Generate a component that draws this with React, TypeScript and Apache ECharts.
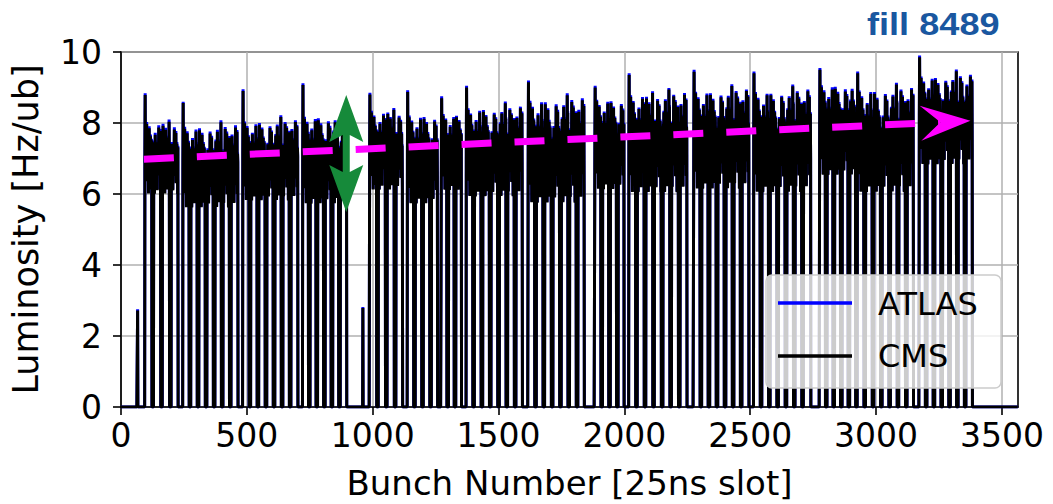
import React, { useEffect, useRef } from "react";
import * as echarts from "echarts";

// ---------- data ----------
const TOTAL_SLOTS = 3564;
const xTickValues = [0, 500, 1000, 1500, 2000, 2500, 3000, 3500];

// isolated (pilot/witness) bunches
const isolatedSlot = [66, 961];
const isolatedCMS = [2.72, 2.79];
const isolatedATLAS = [2.75, 2.82];

// injection groups (first and last filled slot), sub-train count per group
const groupStart = [95, 246, 484, 722, 988, 1138, 1273, 1372, 1618, 1883, 2018, 2276, 2514, 2776, 2926, 3172];
const groupEnd = [226, 464, 702, 896, 1118, 1257, 1352, 1594, 1840, 1998, 2248, 2494, 2740, 2918, 3148, 3382];
const groupTrains = [4, 7, 7, 6, 4, 4, 3, 7, 7, 4, 7, 7, 7, 5, 7, 7];
const trainGapSlots = 7;

// CMS luminosity envelope per group [Hz/ub]
const groupPeakCMS = [8.79, 8.56, 8.9, 9.07, 8.8, 8.87, 8.7, 9.0, 9.15, 9.0, 9.35, 9.44, 9.4, 9.5, 9.4, 9.85];
const groupTopCMS = [8.1, 8.0, 8.15, 8.3, 8.45, 8.35, 8.35, 8.55, 8.8, 8.8, 8.95, 9.05, 9.05, 9.2, 9.1, 9.45];
const groupLowCMS = [5.9, 5.5, 5.7, 5.6, 6.0, 5.6, 6.0, 5.8, 5.6, 6.0, 5.9, 6.0, 5.9, 6.4, 5.9, 6.7];
// ATLAS luminosity envelope per group [Hz/ub]
const groupPeakATLAS = [8.84, 8.6, 8.95, 9.12, 8.85, 8.92, 8.75, 9.05, 9.2, 9.05, 9.4, 9.5, 9.45, 9.55, 9.45, 9.9];
const groupTopATLAS = [8.16, 8.06, 8.2, 8.36, 8.5, 8.4, 8.4, 8.6, 8.86, 8.85, 9.0, 9.1, 9.1, 9.26, 9.15, 9.5];
const groupLowATLAS = [5.92, 5.52, 5.72, 5.62, 6.02, 5.62, 6.02, 5.82, 5.62, 6.02, 5.92, 6.02, 5.92, 6.42, 5.92, 6.72];

// typical bunch-by-bunch shape inside a train (fraction between low and top)
const trainProfile = [0.55, 0.95, 0.45, 0.8, 0.3, 0.7, 0.5, 0.9, 0.2, 0.65, 0.55, 0.75, 0.35, 0.6, 0.05, 0.7, 0.4, 0.85, 0.3, 0.55, 0.65, 0.25, 0.75, 0.45, 0.6, 0.1, 0.7, 0.5, 0.35, 0.6];
// where each train of a group enters the shape above, and its top variation [Hz/ub]
const trainProfileOffset = [0, 11, 5, 19, 8, 23, 14];
const trainTopShift = [0.1, -0.12, 0.05, -0.18, 0.15, -0.05, 0.0];

// annotations
const trendStart = [91, 6.98];
const trendEnd = [3375, 8.06];
const spreadSlot = 895;
const spreadLow = 5.49;
const spreadHigh = 8.79;

const seriesNames = ["ATLAS", "CMS"];
const seriesColors = ["#0000ff", "#000000"];

function buildLumi(peak: number[], top: number[], low: number[], iso: number[]) {
  const v: number[] = new Array(TOTAL_SLOTS).fill(0);
  isolatedSlot.forEach((s, i) => (v[s] = iso[i]));
  groupStart.forEach((gs, g) => {
    const n = groupTrains[g];
    const len = groupEnd[g] - gs + 1;
    const trainLen = Math.round((len - trainGapSlots * (n - 1)) / n);
    for (let t = 0; t < n; t++) {
      const s = gs + t * (trainLen + trainGapSlots);
      const e = t === n - 1 ? groupEnd[g] : s + trainLen - 1;
      const hi = top[g] + trainTopShift[t % trainTopShift.length];
      const off = trainProfileOffset[t % trainProfileOffset.length];
      for (let b = s; b <= e; b++) {
        const i = b - s;
        let val = low[g] + trainProfile[(i + off) % trainProfile.length] * (hi - low[g]);
        if (t === 0 && i === 1) val = peak[g];
        v[b] = val;
      }
    }
  });
  return v.map((y, x) => [x, Math.round(y * 1000) / 1000]);
}

const FONT = "DejaVu Sans";

export default function App() {
  const ref = useRef<HTMLDivElement>(null);
  useEffect(() => {
    if (!ref.current) return;
    const chart = echarts.init(ref.current, undefined, { renderer: "svg" });
    const atlas = buildLumi(groupPeakATLAS, groupTopATLAS, groupLowATLAS, isolatedATLAS);
    const cms = buildLumi(groupPeakCMS, groupTopCMS, groupLowCMS, isolatedCMS);

    chart.setOption({
      animation: false,
      backgroundColor: "#ffffff",
      grid: {
        left: 121,
        right: 35,
        top: 52,
        bottom: 97,
        outerBoundsMode: "none",
        containLabel: false,
        show: true,
        borderColor: "#000",
        borderWidth: 1.6,
        backgroundColor: "transparent",
      },
      xAxis: {
        type: "value",
        min: 0,
        max: TOTAL_SLOTS,
        interval: 500,
        name: "Bunch Number [25ns slot]",
        nameLocation: "middle",
        nameGap: 58,
        nameTextStyle: { fontFamily: FONT, fontSize: 34, lineHeight: 36, color: "#000" },
        axisLine: { show: true, onZero: false, lineStyle: { color: "#000", width: 1.6 } },
        axisTick: { show: true, inside: false, length: 8, customValues: xTickValues, lineStyle: { color: "#000", width: 1.6 } },
        axisLabel: {
          customValues: xTickValues,
          margin: 12,
          fontFamily: FONT,
          fontSize: 33,
          color: "#000",
          formatter: (v: number) => (v % 500 === 0 ? String(v) : ""),
        },
        splitLine: { show: true, lineStyle: { color: "#b0b0b0", width: 1.5 } },
      },
      yAxis: {
        type: "value",
        min: 0,
        max: 10,
        interval: 2,
        name: "Luminosity [Hz/ub]",
        nameLocation: "middle",
        nameGap: 78,
        nameTextStyle: { fontFamily: FONT, fontSize: 35, color: "#000" },
        axisLine: { show: true, lineStyle: { color: "#000", width: 1.6 } },
        axisTick: { show: true, inside: false, length: 8, lineStyle: { color: "#000", width: 1.6 } },
        axisLabel: { margin: 19, fontFamily: FONT, fontSize: 33, color: "#000" },
        splitLine: { show: true, lineStyle: { color: "#b0b0b0", width: 1.5 } },
      },
      series: [
        {
          name: seriesNames[0],
          type: "line",
          data: atlas,
          showSymbol: false,
          symbol: "none",
          silent: true,
          z: 3,
          lineStyle: { color: seriesColors[0], width: 3 },
        },
        {
          name: seriesNames[1],
          type: "line",
          data: cms,
          showSymbol: false,
          symbol: "none",
          silent: true,
          z: 4,
          lineStyle: { color: seriesColors[1], width: 3 },
        },
      ],
    });

    // annotations in data coordinates -> pixels
    const p0 = chart.convertToPixel({ gridIndex: 0 }, trendStart) as number[];
    const tip = chart.convertToPixel({ gridIndex: 0 }, trendEnd) as number[];
    const dx = tip[0] - p0[0];
    const dy = tip[1] - p0[1];
    const L = Math.hypot(dx, dy);
    const ux = dx / L, uy = dy / L;
    const nx = -uy, ny = ux;
    const headLen = 50, headHalf = 17.5, notch = 30;
    const notchPt = [tip[0] - notch * ux, tip[1] - notch * uy];
    const backTop = [tip[0] - headLen * ux + headHalf * nx, tip[1] - headLen * uy + headHalf * ny];
    const backBot = [tip[0] - headLen * ux - headHalf * nx, tip[1] - headLen * uy - headHalf * ny];

    const gTop = chart.convertToPixel({ gridIndex: 0 }, [spreadSlot, spreadHigh]) as number[];
    const gBot = chart.convertToPixel({ gridIndex: 0 }, [spreadSlot, spreadLow]) as number[];
    const gx = gTop[0];
    const gHead = 47, gHalf = 17, gNotch = 7, gShaft = 3.5;
    const green = "#168a3a";
    const magenta = "#ff00ff";

    const lx = 766, ly = 275;

    chart.setOption({
      graphic: [
        {
          type: "line",
          z: 100,
          silent: true,
          shape: { x1: p0[0], y1: p0[1], x2: notchPt[0], y2: notchPt[1] },
          style: { stroke: magenta, lineWidth: 7, lineDash: [30, 23], lineCap: "butt" },
        },
        {
          type: "polygon",
          z: 101,
          silent: true,
          shape: { points: [tip, backTop, notchPt, backBot] },
          style: { fill: magenta },
        },
        {
          type: "polygon",
          z: 102,
          silent: true,
          shape: {
            points: [
              [gx, gTop[1]],
              [gx + gHalf, gTop[1] + gHead],
              [gx + gShaft, gTop[1] + gHead - gNotch],
              [gx + gShaft, gBot[1] - gHead + gNotch],
              [gx + gHalf, gBot[1] - gHead],
              [gx, gBot[1]],
              [gx - gHalf, gBot[1] - gHead],
              [gx - gShaft, gBot[1] - gHead + gNotch],
              [gx - gShaft, gTop[1] + gHead - gNotch],
              [gx - gHalf, gTop[1] + gHead],
            ],
          },
          style: { fill: green },
        },
        // legend
        {
          type: "rect",
          z: 110,
          silent: true,
          shape: { x: lx, y: ly, width: 235, height: 113, r: 6 },
          style: { fill: "rgba(255,255,255,0.8)", stroke: "#cccccc", lineWidth: 1.5 },
        },
        {
          type: "line",
          z: 111,
          silent: true,
          shape: { x1: 778, y1: 303, x2: 852, y2: 303 },
          style: { stroke: seriesColors[0], lineWidth: 3.5 },
        },
        {
          type: "line",
          z: 111,
          silent: true,
          shape: { x1: 778, y1: 356, x2: 852, y2: 356 },
          style: { stroke: seriesColors[1], lineWidth: 3.5 },
        },
        {
          type: "text",
          z: 111,
          silent: true,
          x: 878,
          y: 304,
          style: { text: seriesNames[0], font: `32px '${FONT}'`, fill: "#000", align: "left", verticalAlign: "middle" },
        },
        {
          type: "text",
          z: 111,
          silent: true,
          x: 878,
          y: 356,
          style: { text: seriesNames[1], font: `32px '${FONT}'`, fill: "#000", align: "left", verticalAlign: "middle" },
        },
        {
          type: "text",
          z: 120,
          silent: true,
          x: 867,
          y: 24,
          scaleX: 1.13,
          style: {
            text: "fill 8489",
            font: "bold 32px 'Liberation Sans', Arial, sans-serif",
            fill: "#1a57a0",
            align: "left",
            verticalAlign: "middle",
          },
        },
      ],
    });

    return () => chart.dispose();
  }, []);

  return (
    <div
      ref={ref}
      style={{ position: "absolute", left: 0, top: 0, width: 1053, height: 504 }}
    />
  );
}
